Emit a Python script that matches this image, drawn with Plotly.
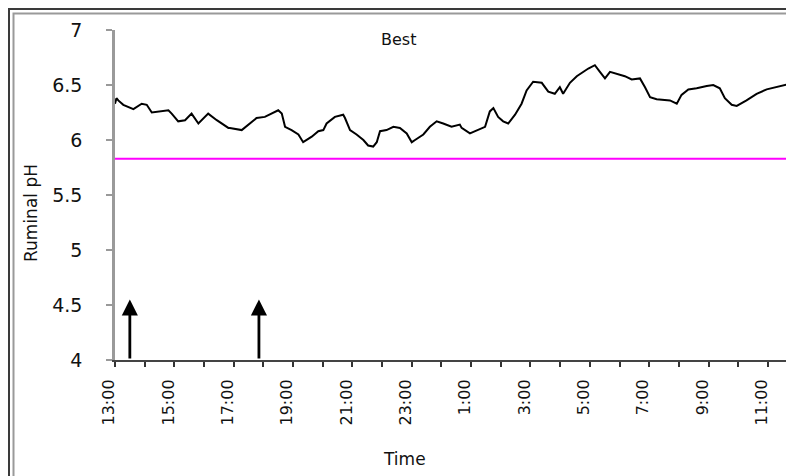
import plotly.graph_objects as go

# ---- data ----
hours_after_13 = [0.00, 0.05, 0.11, 0.28, 0.62, 0.90, 1.07, 1.24, 1.80, 1.91, 2.13, 2.36, 2.58, 2.81,
                  3.14, 3.43, 3.82, 3.87, 4.27, 4.49, 4.77, 5.05, 5.28, 5.50, 5.62, 5.73, 5.95,
                  6.18, 6.34, 6.63, 6.85, 7.02, 7.13, 7.41, 7.69, 7.75, 7.92, 8.14, 8.37, 8.53,
                  8.70, 8.82, 8.93, 9.15, 9.38, 9.60, 9.83, 10.00, 10.11, 10.39, 10.61, 10.84,
                  11.06, 11.34, 11.62, 11.68, 11.96, 12.19, 12.47, 12.63, 12.75, 12.91, 13.08,
                  13.25, 13.48, 13.70, 13.87, 14.09, 14.38, 14.60, 14.82, 14.99, 15.10, 15.33,
                  15.56, 15.95, 16.17, 16.34, 16.51, 16.68, 17.02, 17.18, 17.41, 17.69, 17.86,
                  18.03, 18.25, 18.70, 18.93, 19.09, 19.32, 19.60, 19.94, 20.16, 20.38, 20.55,
                  20.78, 20.95, 21.28, 21.62, 21.96, 22.29, 22.63, 22.88]
ruminal_ph = [6.33, 6.38, 6.36, 6.32, 6.28, 6.33, 6.32, 6.25, 6.27, 6.24, 6.17, 6.18, 6.24, 6.15,
              6.24, 6.18, 6.11, 6.11, 6.09, 6.14, 6.20, 6.21, 6.24, 6.27, 6.24, 6.12, 6.09,
              6.05, 5.98, 6.03, 6.08, 6.09, 6.15, 6.21, 6.23, 6.20, 6.09, 6.05, 6.00, 5.95,
              5.94, 5.98, 6.08, 6.09, 6.12, 6.11, 6.06, 5.98, 6.00, 6.05, 6.12, 6.17,
              6.15, 6.12, 6.14, 6.11, 6.06, 6.09, 6.12, 6.26, 6.29, 6.21, 6.17,
              6.15, 6.23, 6.33, 6.45, 6.53, 6.52, 6.44, 6.42, 6.48, 6.42, 6.52,
              6.58, 6.65, 6.68, 6.62, 6.56, 6.62, 6.59, 6.58, 6.55, 6.56, 6.48,
              6.39, 6.37, 6.36, 6.33, 6.41, 6.46, 6.47, 6.49, 6.50, 6.47, 6.38,
              6.32, 6.31, 6.36, 6.42, 6.46, 6.48, 6.50, 6.52]

threshold_ph = 5.83
feeding_hours = [0.5, 4.85]
arrow_top_ph = 4.55

tick_hours = list(range(0, 23))
tick_labels = ["13:00", "", "15:00", "", "17:00", "", "19:00", "", "21:00", "", "23:00", "",
               "1:00", "", "3:00", "", "5:00", "", "7:00", "", "9:00", "", "11:00"]
y_ticks = [4, 4.5, 5, 5.5, 6, 6.5, 7]
y_labels = ["4", "4.5", "5", "5.5", "6", "6.5", "7"]

# ---- layout geometry (page has an 8px body margin) ----
OFF = 8
W, H = 794 - OFF, 476 - OFF
L, R, T, B = 115 - OFF, 0, 30 - OFF, 116
pw, ph = W - L - R, H - T - B


def px(xp):  # page pixel -> paper x
    return (xp - OFF - L) / pw


def py(yp):  # page pixel -> paper y
    return (H - B - (yp - OFF)) / ph


FONT = "DejaVu Sans"

fig = go.Figure()
fig.add_trace(go.Scatter(x=hours_after_13, y=ruminal_ph, mode="lines",
                         line=dict(color="black", width=2), showlegend=False,
                         hoverinfo="skip"))
fig.add_trace(go.Scatter(x=[0, 22.88], y=[threshold_ph, threshold_ph], mode="lines",
                         line=dict(color="#FF00FF", width=2), showlegend=False,
                         hoverinfo="skip"))

annotations = []
for fh in feeding_hours:
    annotations.append(dict(x=fh, y=arrow_top_ph, ax=fh, ay=4.0, xref="x", yref="y",
                            axref="x", ayref="y", showarrow=True, arrowhead=2,
                            arrowsize=1.15, arrowwidth=2.8, arrowcolor="black", text=""))

annotations += [
    dict(text="Best", x=px(398), y=py(40), xref="paper", yref="paper", showarrow=False,
         font=dict(family=FONT, size=16, color="#111"), xanchor="center", yanchor="middle"),
    dict(text="Time", x=px(404), y=py(459), xref="paper", yref="paper", showarrow=False,
         font=dict(family=FONT, size=17, color="#111"), xanchor="center", yanchor="middle"),
    dict(text="Ruminal pH", x=px(31), y=py(213), xref="paper", yref="paper", showarrow=False,
         textangle=-90, font=dict(family=FONT, size=17, color="#111"),
         xanchor="center", yanchor="middle"),
]

shapes = [
    dict(type="rect", xref="paper", yref="paper", x0=px(9), y0=py(9), x1=px(W + 40),
         y1=py(H + 40), line=dict(color="#3a3a3a", width=2), layer="below"),
    dict(type="rect", xref="paper", yref="paper", x0=px(13.5), y0=py(13.5), x1=px(W + 40),
         y1=py(H + 40), line=dict(color="#9a9a9a", width=2), layer="below"),
]

fig.update_layout(
    width=W, height=H,
    margin=dict(l=L, r=R, t=T, b=B, pad=0),
    paper_bgcolor="white", plot_bgcolor="white",
    showlegend=False,
    annotations=annotations,
    shapes=shapes,
    font=dict(family=FONT, color="#111"),
)
fig.update_xaxes(range=[0, 22.88], tickmode="array", tickvals=tick_hours, ticktext=tick_labels,
                 tickangle=-90, ticks="outside", ticklen=5, tickwidth=1.5, tickcolor="#333",
                 showline=True, linecolor="#444", linewidth=2, showgrid=False, zeroline=False,
                 tickfont=dict(family=FONT, size=16, color="#111"), ticklabelshift=-6,
                 ticklabelstandoff=6)
fig.update_yaxes(range=[4, 7], tickmode="array", tickvals=y_ticks, ticktext=y_labels,
                 ticks="outside", ticklen=6, tickwidth=1.5, tickcolor="#999",
                 showline=True, linecolor="#9a9a9a", linewidth=2.5, showgrid=False,
                 zeroline=False, tickfont=dict(family=FONT, size=19, color="#111"),
                 ticklabelstandoff=20)

fig.write_html("out.html")
